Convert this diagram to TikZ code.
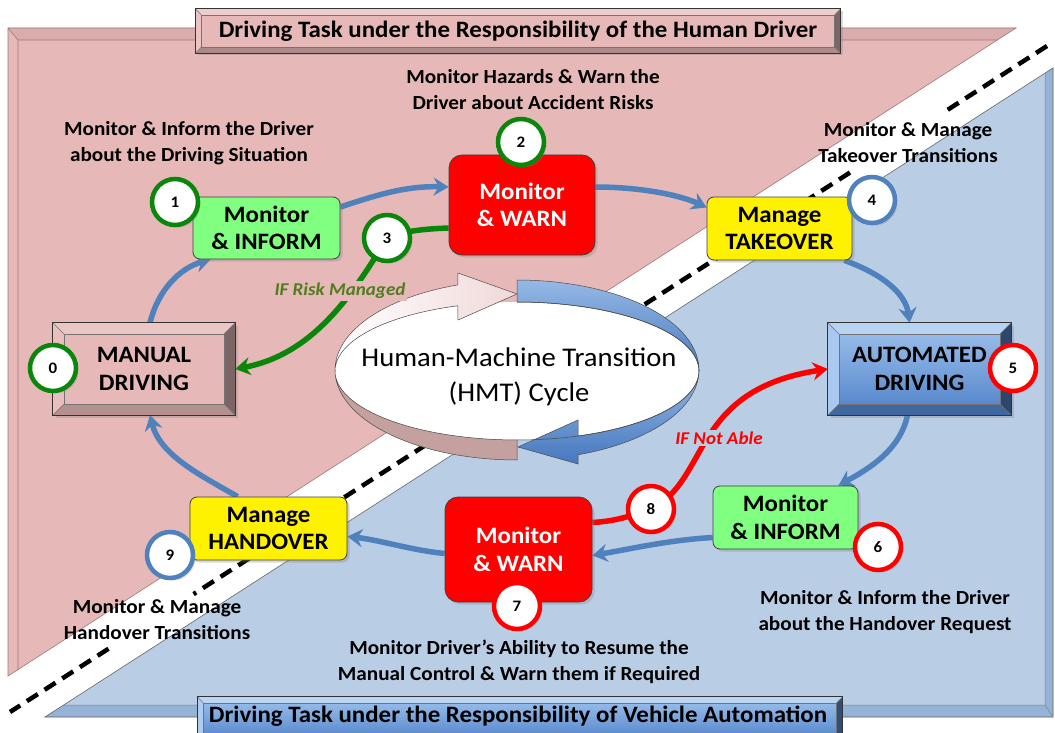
\documentclass[tikz,border=0pt]{standalone}
\usepackage{fontspec}
\setmainfont{Carlito}[FakeStretch=1.06]
\usetikzlibrary{calc,arrows.meta,shadows}
\pgfdeclarelayer{bg}
\pgfdeclarelayer{lines}
\pgfsetlayers{bg,lines,main}
\definecolor{pinkbg}{RGB}{230,184,183}
\definecolor{pinkedge}{RGB}{160,120,120}
\definecolor{bluebg}{RGB}{185,205,229}
\definecolor{bluedark}{RGB}{149,179,215}
\definecolor{arrowblue}{RGB}{79,129,189}
\definecolor{linegreen}{RGB}{10,135,10}
\definecolor{txtgreen}{RGB}{80,125,30}
\definecolor{lgreen}{RGB}{128,255,128}
\definecolor{autotop}{RGB}{160,195,238}
\definecolor{autobot}{RGB}{80,130,200}
\definecolor{ringpink}{RGB}{196,160,159}
\definecolor{ringpinkl}{RGB}{242,222,222}
\definecolor{ringbluel}{RGB}{150,185,230}
\definecolor{ringblued}{RGB}{70,120,190}
\newcommand{\bevelfaces}[6]{%
  \fill[#2] (#1.north west) -- (#1.north east) -- ($(#1.north east)+(-#6,#6)$) -- ($(#1.north west)+(#6,#6)$) -- cycle;
  \fill[#3] (#1.north west) -- (#1.south west) -- ($(#1.south west)+(#6,-#6)$) -- ($(#1.north west)+(#6,#6)$) -- cycle;
  \fill[#4] (#1.north east) -- (#1.south east) -- ($(#1.south east)+(-#6,-#6)$) -- ($(#1.north east)+(-#6,#6)$) -- cycle;
  \fill[#5] (#1.south west) -- (#1.south east) -- ($(#1.south east)+(-#6,-#6)$) -- ($(#1.south west)+(#6,-#6)$) -- cycle;
  \draw[black!55, line width=0.5pt] ($(#1.north west)+(#6,#6)$) rectangle ($(#1.south east)+(-#6,-#6)$);
  \draw[black!55, line width=0.5pt] (#1.north west) -- ($(#1.north west)+(#6,#6)$) (#1.north east) -- ($(#1.north east)+(-#6,#6)$) (#1.south west) -- ($(#1.south west)+(#6,-#6)$) (#1.south east) -- ($(#1.south east)+(-#6,-#6)$);
  \draw[black!80, line width=0.8pt] (#1.north west) rectangle (#1.south east);
}
\tikzset{
  shad/.style={drop shadow={opacity=0.3, shadow xshift=2.5pt, shadow yshift=-2.5pt}},
  conn/.style={line width=5.5pt, -{Stealth[length=15pt,width=18pt,inset=5pt]}},
  blueconn/.style={conn, draw=arrowblue, color=arrowblue},
  greenl/.style={line width=5.5pt, draw=linegreen},
  redl/.style={line width=5.5pt, draw=red},
  boxtext/.style={font=\bfseries\fontsize{23.5}{27.5}\selectfont, align=center, inner sep=0pt},
  titletext/.style={font=\bfseries\fontsize{23.5}{25}\selectfont, align=center, inner sep=0pt},
  rbox/.style={boxtext, rounded corners=7pt, draw=black!75, line width=0.8pt, shad},
  numc/.style={circle, fill=white, line width=4.5pt, minimum size=46pt, inner sep=0pt, font=\bfseries\fontsize{16}{16}\selectfont, shad},
  desc/.style={font=\bfseries\fontsize{20}{26}\selectfont, align=center, inner sep=0pt},
  iflabel/.style={font=\bfseries\itshape\fontsize{18}{18}\selectfont, inner sep=2pt},
  dashline/.style={line width=4.5pt, dash pattern=on 13pt off 8pt},
}
\begin{document}
\begin{tikzpicture}[x=1pt,y=-1pt]
\useasboundingbox (0,0) rectangle (1055,733);
\begin{pgfonlayer}{bg}
\fill[white] (0,0) rectangle (1055,733);
% pink region
\fill[pinkbg] (8,28) -- (1016,28) -- (8,676) -- cycle;
\fill[pinkbg!94!black] (8,28) -- (1016,28) -- (997,40) -- (18,40) -- cycle;
\draw[pinkedge, line width=0.6pt] (8,28) -- (1016,28) -- (8,676) -- cycle;
\draw[pinkedge, line width=0.6pt] (997,40) -- (18,40) -- (18,670) (8,28) -- (18,40);
% blue region
\fill[bluebg] (1053,68) -- (1053,717) -- (45,717) -- cycle;
\fill[bluedark] (45,717) -- (1053,717) -- (1045,705) -- (64,705) -- cycle;
\fill[bluedark] (1053,68) -- (1053,717) -- (1045,705) -- (1045,73) -- cycle;
\draw[black!60, line width=0.6pt] (1053,68) -- (1053,717) -- (45,717) -- cycle;
\draw[black!50, line width=0.5pt] (1045,73) -- (1045,705) -- (64,705) (1045,705) -- (1053,717);
% dashed boundary (interrupted by the two description texts)
\coordinate (dA) at (1047,46);
\coordinate (dB) at (10,712);
\draw[dashline] (dA) -- ($(dA)!0.098!(dB)$);
\draw[dashline] ($(dA)!0.19!(dB)$) -- ($(dA)!0.823!(dB)$);
\draw[dashline] ($(dA)!0.905!(dB)$) -- (dB);
% HMT ring
\fill[white] plot[domain=0:360, samples=90, variable=\t] ({517+182*cos(\t)},{371+69*sin(\t)}) -- cycle;
\shade[left color=white, right color=ringpinkl!85!pinkbg, draw=black!70, line width=0.5pt]
  plot[domain=180:251, samples=30, variable=\t] ({517+182*cos(\t)},{370+90*sin(\t)})
  -- (458,273) -- (517,294) -- (458,320)
  -- plot[domain=251:180, samples=30, variable=\t] ({517+182*cos(\t)},{371+69*sin(\t)}) -- cycle;
\shade[top color=ringbluel, bottom color=ringblued, draw=black!70, line width=0.5pt]
  plot[domain=270:360, samples=30, variable=\t] ({517+182*cos(\t)},{370+90*sin(\t)})
  -- plot[domain=360:270, samples=30, variable=\t] ({517+182*cos(\t)},{371+69*sin(\t)}) -- cycle;
\shade[top color=ringbluel, bottom color=ringblued, draw=black!70, line width=0.5pt]
  plot[domain=0:70.4, samples=30, variable=\t] ({517+182*cos(\t)},{370+90*sin(\t)})
  -- (578,464) -- (518,447) -- (578,420)
  -- plot[domain=70.4:0, samples=30, variable=\t] ({517+182*cos(\t)},{371+69*sin(\t)}) -- cycle;
\fill[ringpink, draw=black!70, line width=0.5pt]
  plot[domain=90:180, samples=30, variable=\t] ({517+182*cos(\t)},{370+90*sin(\t)})
  -- plot[domain=180:90, samples=30, variable=\t] ({517+182*cos(\t)},{371+69*sin(\t)}) -- cycle;
\draw[black!70, line width=0.5pt] plot[domain=-90:90, samples=60, variable=\t] ({517+182*cos(\t)},{371+69*sin(\t)});
\end{pgfonlayer}
\node[font=\fontsize{27}{35}\selectfont, align=center, inner sep=0pt] (hmt) at (519,377) {Human-Machine Transition\\(HMT) Cycle};
% title boxes
\node[fill=pinkbg, minimum width=645pt, minimum height=44pt, shad] (ttop) at (518,31) {};
\bevelfaces{ttop}{pinkbg!70!white}{pinkbg!85!white}{pinkbg!55!black}{pinkbg!75!black}{6}
\node[titletext] (ttoptext) at (ttop) {Driving Task under the Responsibility of the Human Driver};
\node[top color=autotop, bottom color=autobot, minimum width=645pt, minimum height=44pt] (tbot) at (520,719) {};
\bevelfaces{tbot}{autotop!70!white}{autotop!85!white}{autobot!60!black}{autobot!80!black}{6}
\node[titletext] (tbottext) at (518,716) {Driving Task under the Responsibility of Vehicle Automation};
% main boxes
\node[fill=pinkbg, minimum width=182pt, minimum height=92pt, shad] (man0) at (144,369) {};
\bevelfaces{man0}{pinkbg!80!white}{pinkbg!90!white}{pinkbg!55!black}{pinkbg!78!black}{11}
\node[boxtext] (man0text) at (man0) {MANUAL\\DRIVING};
\node[top color=autotop, bottom color=autobot, minimum width=183pt, minimum height=92pt, shad] (auto5) at (919.5,369) {};
\bevelfaces{auto5}{autotop!75!white}{autotop!90!white}{autobot!55!black}{autobot!80!black}{11}
\node[boxtext] (auto5text) at (auto5) {AUTOMATED\\DRIVING};
\node[rbox, fill=lgreen, minimum width=147pt, minimum height=62pt] (inf1) at (266.5,228) {Monitor\\\& INFORM};
\node[rbox, fill=red, text=white, rounded corners=13pt, minimum width=146pt, minimum height=100pt] (warn2) at (522,205) {Monitor\\\& WARN};
\node[rbox, fill=yellow, minimum width=145pt, minimum height=63pt] (take4) at (779.5,228.5) {Manage\\TAKEOVER};
\node[rbox, fill=lgreen, minimum width=145pt, minimum height=63pt] (inf6) at (785.5,517.5) {Monitor\\\& INFORM};
\node[rbox, fill=red, text=white, rounded corners=13pt, minimum width=147pt, minimum height=105pt] (warn7) at (518.5,549.5) {Monitor\\\& WARN};
\node[rbox, fill=yellow, minimum width=157pt, minimum height=63pt] (hand9) at (268.5,528.5) {Manage\\HANDOVER};
% numbered circles
\node[numc, draw=linegreen] (c0) at (53,368) {0};
\node[numc, draw=linegreen] (c1) at (175,202) {1};
\node[numc, draw=linegreen] (c2) at (521,142) {2};
\node[numc, draw=linegreen] (c3) at (387,238) {3};
\node[numc, draw=arrowblue] (c4) at (872,200) {4};
\node[numc, draw=red] (c5) at (1013,368) {5};
\node[numc, draw=red] (c6) at (878,547) {6};
\node[numc, draw=red] (c7) at (517,606) {7};
\node[numc, draw=red] (c8) at (651,509) {8};
\node[numc, draw=arrowblue] (c9) at (170,555) {9};
% descriptions
\node[desc] (d1) at (189,143) {Monitor \& Inform the Driver\\about the Driving Situation};
\node[desc] (d2) at (533,90) {Monitor Hazards \& Warn the\\Driver about Accident Risks};
\node[desc] (d4) at (908,143) {Monitor \& Manage\\Takeover Transitions};
\node[desc] (d6) at (885,612) {Monitor \& Inform the Driver\\about the Handover Request};
\node[desc] (d7) at (519,662) {Monitor Driver’s Ability to Resume the\\Manual Control \& Warn them if Required};
\node[desc] (d9) at (157,620) {Monitor \& Manage\\Handover Transitions};
\node[iflabel, text=txtgreen, fill=pinkbg] (lrisk) at (340,291) {IF Risk Managed};
\node[iflabel, text=red, fill=bluebg] (lnot) at (719,438) {IF Not Able};
% connectors
\begin{pgfonlayer}{lines}
\draw[blueconn] ($(man0.north)+(6,0)$) .. controls (158,290) and (180,268) .. ($(inf1.south west)+(18,0)$);
\draw[blueconn] ($(inf1.east)+(0,-21)$) .. controls (385,192) and (410,186) .. ($(warn2.west)+(0,-18)$);
\draw[blueconn] ($(warn2.east)+(0,-18)$) .. controls (640,187) and (680,195) .. ($(take4.west)+(0,-21)$);
\draw[blueconn] ($(take4.south east)+(-8,0)$) .. controls (885,275) and (906,295) .. ($(auto5.north)+(-10,0)$);
\draw[blueconn] ($(auto5.south)+(-12,0)$) .. controls (900,450) and (870,468) .. ($(inf6.north east)+(-20,0)$);
\draw[blueconn] ($(inf6.west)+(0,20)$) .. controls (670,540) and (635,548) .. ($(warn7.east)+(0,6)$);
\draw[blueconn] ($(warn7.west)+(0,4)$) .. controls (410,550) and (380,540) .. ($(hand9.east)+(0,8)$);
\draw[blueconn] ($(hand9.north west)+(48,0)$) .. controls (200,475) and (160,455) .. ($(man0.south)+(6,0)$);
\draw[greenl] ($(warn2.west)+(0,23)$) .. controls (420,229) and (400,232) .. (c3.center);
\draw[greenl, conn, color=linegreen] (c3.center) .. controls (350,300) and (310,355) .. (man0.east);
\draw[redl] ($(warn7.east)+(0,-27)$) .. controls (620,521) and (635,514) .. (c8.center);
\draw[redl, conn, color=red] (c8.center) .. controls (710,480) and (690,390) .. (auto5.west);
\end{pgfonlayer}
\end{tikzpicture}
\end{document}
